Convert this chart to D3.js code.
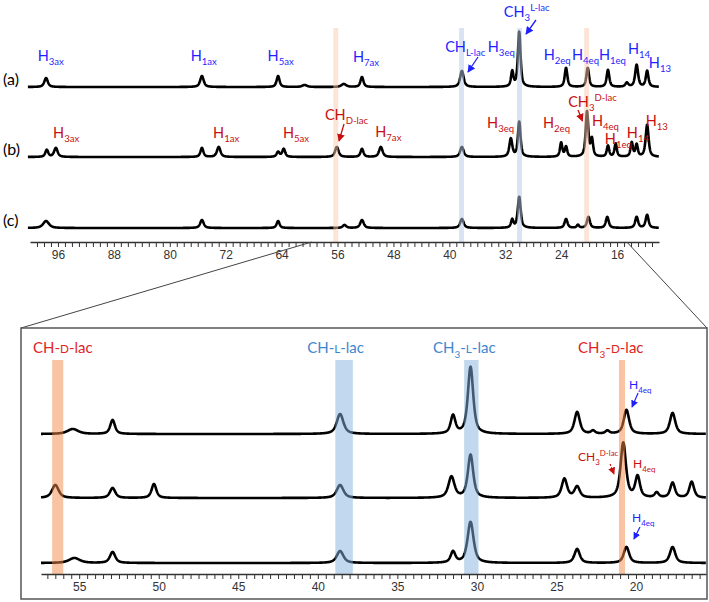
<!DOCTYPE html>
<html>
<head>
<meta charset="utf-8">
<script src="https://cdn.jsdelivr.net/npm/d3@7"></script>
<style>
  body { margin: 0; background: #fff; }
  svg { display: block; }
  .lbl { font-family: Lato, "Open Sans", sans-serif; }
  .axis text { font-family: "Liberation Sans", Arial, sans-serif; font-size: 12px; fill: #333; }
  .axis path, .axis line { stroke: #333; }
</style>
</head>
<body>
<svg id="chart" width="709" height="602"></svg>
<script>
// ---- data: peaks as [ppm, height, fwhm] ----
const topPeaksA = [[97.7,9,0.6],[75.4,11,0.6],[64.5,11,0.5],[60.7,2,0.8],[55.1,3,0.8],[52.5,10,0.5],
  [38.2,16,0.6],[31.0,15,0.4],[30.0,55,0.45],[23.3,19,0.45],[20.2,19,0.45],[17.3,17,0.45],
  [14.6,4,0.5],[13.2,22,0.5],[11.7,16,0.45]];
const topPeaksB = [[97.6,7,0.5],[96.3,9,0.6],[75.4,9,0.5],[73.0,10,0.6],[64.5,5,0.5],[63.7,8,0.5],
  [56.1,10,0.6],[52.5,8,0.5],[49.8,10,0.6],[38.2,10,0.6],[31.2,18,0.5],[30.0,35,0.45],
  [24.0,14,0.4],[23.3,10,0.4],[20.3,45,0.45],[19.6,17,0.4],[17.3,11,0.4],[16.2,13,0.4],
  [13.9,14,0.4],[13.2,12,0.4],[11.7,32,0.5]];
const topPeaksC = [[97.7,7,1.0],[75.4,8,0.6],[64.5,7,0.5],[55.0,3,0.6],[52.5,8,0.6],[38.2,9,0.6],
  [31.0,8,0.4],[30.0,31,0.5],[23.3,9,0.5],[21.6,3,0.4],[20.1,11,0.5],[17.4,11,0.5],
  [13.2,11,0.5],[11.7,13,0.5]];

const botPeaksA = [[55.4,5,0.8],[52.9,14,0.35],[38.6,20,0.5],[31.5,18,0.35],[30.4,67,0.4],
  [23.7,22,0.4],[22.7,3,0.3],[21.8,3,0.3],[20.6,24,0.4],[17.7,21,0.4]];
const botPeaksB = [[56.5,13,0.5],[52.9,10,0.4],[50.3,14,0.35],[38.6,13,0.5],[31.6,21,0.45],
  [30.4,43,0.4],[24.5,19,0.4],[23.7,11,0.4],[20.8,55,0.4],[19.9,21,0.35],[18.7,5,0.3],
  [17.7,15,0.35],[16.5,16,0.35]];
const botPeaksC = [[55.3,5,0.8],[52.9,11,0.4],[38.6,12,0.5],[31.5,11,0.35],[30.4,41,0.45],
  [23.7,14,0.4],[20.6,16,0.4],[17.7,16,0.4]];

// vertical offsets of the stacked traces (intensity units)
const topOffsets = [155, 85, 14];
const botOffsets = [140, 76, 11];
const traceNames = ["(a)", "(b)", "(c)"];

// shaded regions [from ppm, to ppm, isomer]
const topBands = [[56.6,55.9,"D"],[38.6,37.9,"L"],[30.3,29.6,"L"],[20.7,20.0,"D"]];
const botBands = [[56.7,56.0,"D"],[38.9,37.8,"L"],[30.8,29.9,"L"],[21.07,20.69,"D"]];

// tick labels
const topTickLabels = [96, 88, 80, 72, 64, 56, 48, 40, 32, 24, 16];
const botTickLabels = [55, 50, 45, 40, 35, 30, 25, 20];

// annotations [text, ppm, intensity]
const topLabelsA = [["H_{3ax}",98.9,181],["H_{1ax}",77.0,181],["H_{5ax}",66.0,181],["H_{7ax}",53.8,180],
  ["CH_{L-lac}",40.6,190],["H_{3eq}",34.5,190],["CH_{3}^{L-lac}",32.2,225],["H_{2eq}",26.5,182],
  ["H_{4eq}",22.45,182],["H_{1eq}",18.6,182],["H_{14}",14.45,188],["H_{13}",11.45,174]];
const topLabelsB = [["H_{3ax}",96.7,104],["H_{1ax}",73.8,104],["H_{5ax}",63.8,104],["CH_{D-lac}",57.8,122],
  ["H_{7ax}",50.6,105],["H_{3eq}",34.6,114],["H_{2eq}",26.6,114],["CH_{3}^{D-lac}",23.0,135],
  ["H_{4eq}",19.6,116],["H_{1eq}",17.75,98],["H_{14}",14.6,104],["H_{13}",11.9,116]];
const topArrowsA = [[35.9,185,37.33,170],[27.6,222,29.03,208]];
const topArrowsB = [[55.07,118,55.79,101],[21.59,132,20.95,121]];

const botTitles = [["CH-~{D}-lac",57.9,221,"D"],["CH-~{L}-lac",40.67,221,"L"],
  ["CH_{3}-~{L}-lac",32.76,221,"L"],["CH_{3}-~{D}-lac",23.64,221,"D"]];
const botLabels = [["H_{4eq}",20.44,185,"a"],["CH_{3}^{D-lac}",23.64,113,"b"],
  ["H_{4eq}",20.19,106,"b"],["H_{4eq}",20.25,52,"a"]];
const botArrows = [[19.87,181,20.25,167,"a"],[21.63,110,21.38,100,"b"],[19.75,47,20.13,35,"a"]];

// zoomed window marked on the top axis (ppm)
const zoomLink = [59.7, 14.6];

// ---- layout ----
const svg = d3.select("#chart");
const colA = "#1f1fff", colB = "#c80f0f";
const bandFill = { D: "#f18949", L: "#85b1dd" };
const bandFillTop = { D: "#fbc9ad", L: "#b3c7e7" };
const titleCol = { D: "#e02424", L: "#3f86cf" };

const xTop = d3.scaleLinear().domain([100, 10]).range([30, 659]);
const yTop = d3.scaleLinear().domain([0, 214]).range([242, 28]);
const xBot = d3.scaleLinear().domain([57.4, 15.6]).range([41, 706]);
const yBot = d3.scaleLinear().domain([0, 214]).range([574, 360]);

function spectrum(peaks, hi, lo, step, offset) {
  const pts = [];
  for (let x = hi; x >= lo; x -= step) {
    let y = 0;
    peaks.forEach(([c, h, w]) => {
      const d = (x - c) / (w / 2);
      y += h * (0.7 / (1 + d * d) + 0.3 * Math.exp(-0.693 * d * d));
    });
    pts.push([x, y + offset]);
  }
  return pts;
}

// markers
const defs = svg.append("defs");
[["mA", colA], ["mB", colB]].forEach(([id, c]) => {
  defs.append("marker").attr("id", id).attr("viewBox", "0 0 10 10")
    .attr("refX", 9).attr("refY", 5).attr("markerWidth", 6).attr("markerHeight", 6)
    .attr("orient", "auto").append("path").attr("d", "M0,0L10,5L0,10z").attr("fill", c);
});

function rich(g, x, y, str, size, color) {
  const t = g.append("text").attr("class", "lbl").attr("x", x).attr("y", y)
    .attr("fill", color).attr("font-size", size);
  const re = /([_^~])\{([^}]*)\}|([^_^~]+)/g;
  let m, shift = 0;
  while ((m = re.exec(str))) {
    let target = 0, fs = size, txt = m[3];
    if (m[1]) {
      txt = m[2];
      fs = size * (m[1] === "~" ? 0.78 : 0.66);
      target = m[1] === "_" ? size * 0.3 : m[1] === "^" ? -size * 0.42 : 0;
    }
    t.append("tspan").attr("dy", target - shift).attr("font-size", fs).text(txt);
    shift = target;
  }
  return t;
}

const line = (x, y) => d3.line().x(d => x(d[0])).y(d => y(d[1]));

// ---- top panel ----
const topG = svg.append("g");
[topPeaksA, topPeaksB, topPeaksC].forEach((p, i) => {
  topG.append("path")
    .datum(spectrum(p, 100.3, 10, 0.03, topOffsets[i]))
    .attr("d", line(xTop, yTop))
    .attr("fill", "none").attr("stroke", "#000").attr("stroke-width", 2.6)
    .attr("stroke-linejoin", "round");
  topG.append("text").attr("class", "lbl").attr("x", 3).attr("y", yTop(topOffsets[i]) - 2)
    .attr("font-size", 16).attr("fill", "#000").text(traceNames[i]);
});

topG.selectAll(".bandT").data(topBands).enter().append("rect")
  .attr("x", d => xTop(d[0])).attr("width", d => xTop(d[1]) - xTop(d[0]))
  .attr("y", yTop(214)).attr("height", yTop(0) - yTop(214))
  .attr("fill", d => bandFillTop[d[2]]).attr("opacity", 0.5);

const topAxis = d3.axisBottom(xTop).tickValues(d3.range(11, 100, 1))
  .tickFormat(d => topTickLabels.includes(d) ? d : "").tickSize(5).tickSizeOuter(0);
topG.append("g").attr("class", "axis").attr("transform", `translate(0,${yTop(0)})`).call(topAxis)
  .call(g => g.select(".domain").attr("stroke-width", 1.5));

topLabelsA.forEach(([t, x, y]) => rich(topG, xTop(x), yTop(y), t, 14.5, colA));
topLabelsB.forEach(([t, x, y]) => rich(topG, xTop(x), yTop(y), t, 14.5, colB));
topArrowsA.forEach(a => topG.append("line").attr("x1", xTop(a[0])).attr("y1", yTop(a[1]))
  .attr("x2", xTop(a[2])).attr("y2", yTop(a[3])).attr("stroke", colA).attr("stroke-width", 1.3)
  .attr("marker-end", "url(#mA)"));
topArrowsB.forEach(a => topG.append("line").attr("x1", xTop(a[0])).attr("y1", yTop(a[1]))
  .attr("x2", xTop(a[2])).attr("y2", yTop(a[3])).attr("stroke", colB).attr("stroke-width", 1.3)
  .attr("marker-end", "url(#mB)"));

// ---- zoom box ----
const box = { x: 21, y: 328, w: 686, h: 272 };
svg.append("line").attr("x1", xTop(zoomLink[0])).attr("y1", yTop(0)).attr("x2", box.x).attr("y2", box.y)
  .attr("stroke", "#444").attr("stroke-width", 1);
svg.append("line").attr("x1", xTop(zoomLink[1])).attr("y1", yTop(0)).attr("x2", box.x + box.w).attr("y2", box.y)
  .attr("stroke", "#444").attr("stroke-width", 1);
svg.append("rect").attr("x", box.x).attr("y", box.y).attr("width", box.w).attr("height", box.h - 1)
  .attr("fill", "none").attr("stroke", "#555").attr("stroke-width", 1.5);

// ---- bottom panel ----
const botG = svg.append("g");
[botPeaksA, botPeaksB, botPeaksC].forEach((p, i) => {
  botG.append("path")
    .datum(spectrum(p, 57.4, 15.6, 0.015, botOffsets[i]))
    .attr("d", line(xBot, yBot))
    .attr("fill", "none").attr("stroke", "#000").attr("stroke-width", 2.6)
    .attr("stroke-linejoin", "round");
});

botG.selectAll(".bandB").data(botBands).enter().append("rect")
  .attr("x", d => xBot(d[0])).attr("width", d => xBot(d[1]) - xBot(d[0]))
  .attr("y", yBot(214)).attr("height", yBot(0) - yBot(214))
  .attr("fill", d => bandFill[d[2]]).attr("opacity", 0.5);

const botAxis = d3.axisBottom(xBot).tickValues(d3.range(16, 57.5, 0.5))
  .tickFormat(d => botTickLabels.includes(d) ? d : "").tickSize(5).tickSizeOuter(0);
botG.append("g").attr("class", "axis").attr("transform", `translate(0,${yBot(0)})`).call(botAxis)
  .call(g => g.select(".domain").attr("stroke-width", 1.5));

botTitles.forEach(([t, x, y, k]) => rich(botG, xBot(x), yBot(y), t, 15, titleCol[k]));
botLabels.forEach(([t, x, y, k]) => rich(botG, xBot(x), yBot(y), t, 12, k === "a" ? colA : colB));
botArrows.forEach(a => botG.append("line").attr("x1", xBot(a[0])).attr("y1", yBot(a[1]))
  .attr("x2", xBot(a[2])).attr("y2", yBot(a[3])).attr("stroke", a[4] === "a" ? colA : colB)
  .attr("stroke-width", 1.2).attr("stroke-dasharray", a[4] === "b" ? "2,1.5" : null)
  .attr("marker-end", a[4] === "a" ? "url(#mA)" : "url(#mB)"));
</script>
</body>
</html>
